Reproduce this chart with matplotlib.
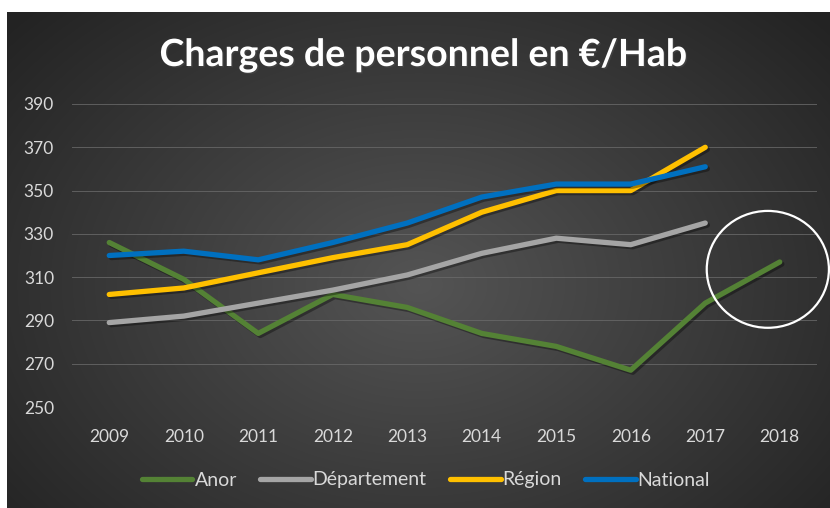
import numpy as np
import matplotlib
matplotlib.use("Agg")
import matplotlib.pyplot as plt
import matplotlib.patheffects as pe
from matplotlib.patches import Ellipse

years = [2009, 2010, 2011, 2012, 2013, 2014, 2015, 2016, 2017, 2018]
anor = [326, 309, 284, 302, 296, 284, 278, 267, 298, 317]
departement = [289, 292, 298, 304, 311, 321, 328, 325, 335, np.nan]
region = [302, 305, 312, 319, 325, 340, 350, 350, 370, np.nan]
national = [320, 322, 318, 326, 335, 347, 353, 353, 361, np.nan]

series = [
    ("Anor", anor, "#548235"),
    ("Département", departement, "#A5A5A5"),
    ("Région", region, "#FFC000"),
    ("National", national, "#0070C0"),
]

plt.rcParams['font.family'] = ['Lato', 'DejaVu Sans']

W, H = 830, 508
fig = plt.figure(figsize=(W / 100, H / 100), dpi=100)
fig.patch.set_facecolor("white")

# radial gradient background
bg = fig.add_axes([7 / W, 0, (W - 7) / W, (H - 12) / H])
bg.set_axis_off()
yy, xx = np.mgrid[0:1:300j, 0:1:500j]
r = np.sqrt(((xx - 0.5) / 0.62) ** 2 + ((yy - 0.55) / 0.75) ** 2)
v = np.clip(0.33 - 0.18 * r, 0.14, 0.35)
img = np.dstack([v, v, v])
bg.imshow(img, aspect="auto", extent=[0, 1, 0, 1], interpolation="bilinear")

ax = fig.add_axes([72 / W, 101 / H, (817 - 72) / W, (404 - 101) / H])
ax.set_facecolor("none")

for name, vals, col in series:
    ax.plot(years, vals, color=col, lw=3.8, label=name, solid_capstyle="round",
            solid_joinstyle="round", zorder=3,
            path_effects=[pe.SimpleLineShadow(offset=(1.5, -1.5), alpha=0.35), pe.Normal()])

ax.add_patch(Ellipse((2017.84, 313.6), 1.64, 54, fill=False, ec="white", lw=1.6,
                     zorder=4, clip_on=False))

ax.set_xlim(2008.5, 2018.5)
ax.set_ylim(250, 390)
ax.set_yticks(range(250, 391, 20))
ax.set_xticks(years)
ax.grid(axis="y", color="#6a6a6a", lw=0.7, alpha=0.8)
ax.set_axisbelow(True)
for s in ax.spines.values():
    s.set_visible(False)
ax.tick_params(length=0, colors="#d9d9d9", labelsize=12.5)
ax.tick_params(axis="y", pad=13)
ax.tick_params(axis="x", pad=16)

fig.text(423 / W, 1 - 55 / H, "Charges de personnel en €/Hab", color="white", fontsize=27,
         fontweight="bold", ha="center", va="center",
         path_effects=[pe.withSimplePatchShadow(offset=(1, -1), alpha=0.5)])

leg = fig.legend(loc="center", bbox_to_anchor=(426 / W, 1 - 480 / H), ncol=4, frameon=False,
                 fontsize=14, handlelength=2.6, handletextpad=0.1, columnspacing=1.2,
                 labelcolor="#d9d9d9")
for line in leg.get_lines():
    line.set_path_effects([])
    line.set_linewidth(3.8)

fig.savefig("out.png", dpi=100)
